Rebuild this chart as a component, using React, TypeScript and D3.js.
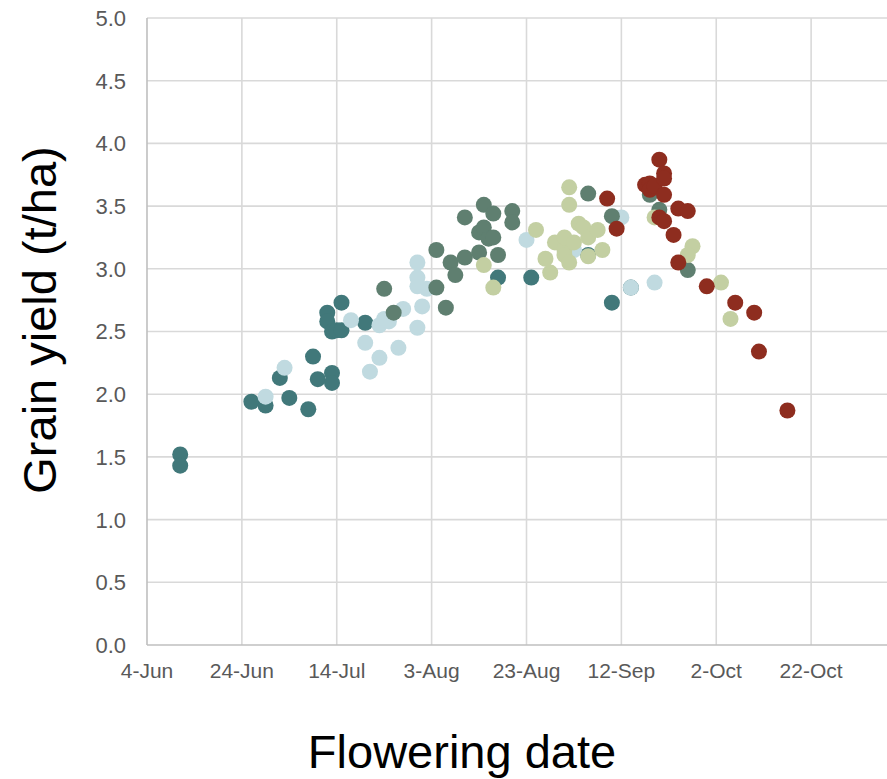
import React from "react";
import * as d3 from "d3";

// Flowering date vs grain yield, one array per sowing group
const sowingA: [string, number][] = [
  ["2019-06-11", 1.52], ["2019-06-11", 1.43], ["2019-06-26", 1.94], ["2019-06-29", 1.91],
  ["2019-07-02", 2.13], ["2019-07-04", 1.97], ["2019-07-08", 1.88], ["2019-07-09", 2.30],
  ["2019-07-10", 2.12], ["2019-07-13", 2.17], ["2019-07-13", 2.09], ["2019-07-15", 2.73],
  ["2019-07-12", 2.65], ["2019-07-12", 2.58], ["2019-07-13", 2.50], ["2019-07-14", 2.51],
  ["2019-07-15", 2.51], ["2019-07-20", 2.57], ["2019-08-17", 2.93], ["2019-08-24", 2.93],
  ["2019-09-10", 2.73], ["2019-09-14", 2.85], ["2019-09-05", 3.11],
];

const sowingB: [string, number][] = [
  ["2019-06-29", 1.98], ["2019-07-03", 2.21], ["2019-07-17", 2.59], ["2019-07-20", 2.41],
  ["2019-07-21", 2.18], ["2019-07-23", 2.29], ["2019-07-23", 2.55], ["2019-07-24", 2.60],
  ["2019-07-25", 2.58], ["2019-07-27", 2.37], ["2019-07-28", 2.68], ["2019-07-31", 2.53],
  ["2019-08-01", 2.70], ["2019-07-31", 3.05], ["2019-07-31", 2.93], ["2019-07-31", 2.86],
  ["2019-08-02", 2.84], ["2019-08-23", 3.23], ["2019-09-02", 3.15], ["2019-09-12", 3.41],
  ["2019-09-14", 2.85], ["2019-09-19", 2.89],
];

const sowingC: [string, number][] = [
  ["2019-07-24", 2.84], ["2019-07-26", 2.65], ["2019-08-04", 3.15], ["2019-08-04", 2.85],
  ["2019-08-06", 2.69], ["2019-08-07", 3.05], ["2019-08-08", 2.95], ["2019-08-10", 3.09],
  ["2019-08-10", 3.41], ["2019-08-13", 3.13], ["2019-08-13", 3.29], ["2019-08-14", 3.33],
  ["2019-08-14", 3.51], ["2019-08-15", 3.24], ["2019-08-16", 3.25], ["2019-08-16", 3.44],
  ["2019-08-17", 3.11], ["2019-08-20", 3.46], ["2019-08-20", 3.37], ["2019-09-05", 3.60],
  ["2019-09-10", 3.42], ["2019-09-18", 3.59], ["2019-09-20", 3.47], ["2019-09-26", 2.99],
];

const sowingD: [string, number][] = [
  ["2019-08-14", 3.03], ["2019-08-16", 2.85], ["2019-08-25", 3.31], ["2019-08-27", 3.08],
  ["2019-08-28", 2.97], ["2019-08-29", 3.21], ["2019-08-31", 3.15], ["2019-08-31", 3.25],
  ["2019-08-31", 3.11], ["2019-09-01", 3.05], ["2019-09-01", 3.65], ["2019-09-01", 3.51],
  ["2019-09-02", 3.21], ["2019-09-03", 3.36], ["2019-09-04", 3.33], ["2019-09-05", 3.25],
  ["2019-09-05", 3.10], ["2019-09-07", 3.31], ["2019-09-08", 3.15], ["2019-09-19", 3.41],
  ["2019-09-27", 3.18], ["2019-09-26", 3.11], ["2019-10-03", 2.89], ["2019-10-05", 2.60],
];

const sowingE: [string, number][] = [
  ["2019-09-09", 3.56], ["2019-09-11", 3.32], ["2019-09-17", 3.67], ["2019-09-18", 3.68],
  ["2019-09-18", 3.63], ["2019-09-19", 3.66], ["2019-09-20", 3.87], ["2019-09-21", 3.76],
  ["2019-09-21", 3.72], ["2019-09-21", 3.59], ["2019-09-20", 3.41], ["2019-09-21", 3.38],
  ["2019-09-23", 3.27], ["2019-09-24", 3.48], ["2019-09-26", 3.46], ["2019-09-24", 3.05],
  ["2019-09-30", 2.86], ["2019-10-06", 2.73], ["2019-10-10", 2.65], ["2019-10-11", 2.34],
  ["2019-10-17", 1.87],
];

const seriesColors = ["#41787A", "#C0DAE0", "#5F7F70", "#C3CFA2", "#8E2D1F"];

// labelled date ticks, 20 days apart; the axis runs on to 11-Nov past the right edge
const xTickDates = [
  "2019-06-04", "2019-06-24", "2019-07-14", "2019-08-03",
  "2019-08-23", "2019-09-12", "2019-10-02", "2019-10-22",
];
const xAxisEnd = "2019-11-11";
const yTicks = [0, 0.5, 1, 1.5, 2, 2.5, 3, 3.5, 4, 4.5, 5];

const xTitle = "Flowering date";
const yTitle = "Grain yield (t/ha)";

const W = 887;
const H = 779;
const plot = { left: 147, top: 18, bottom: 645, right: 906 };

const parse = d3.timeParse("%Y-%m-%d");
const fmt = d3.timeFormat("%-d-%b");

export default function App() {
  const xDomain = [parse(xTickDates[0])!, parse(xAxisEnd)!];
  const x = d3.scaleTime().domain(xDomain).range([plot.left, plot.right]);
  const y = d3.scaleLinear().domain([0, 5]).range([plot.bottom, plot.top]);

  const allSeries = [sowingA, sowingB, sowingC, sowingD, sowingE];
  const font = "'Liberation Sans', Arial, sans-serif";

  return (
    <svg
      width={W}
      height={H}
      style={{ position: "absolute", left: 0, top: 0, background: "#fff" }}
      fontFamily={font}
    >
      {/* horizontal gridlines */}
      {yTicks.slice(1).map((t) => (
        <line key={"h" + t} x1={plot.left} x2={W} y1={y(t)} y2={y(t)} stroke="#d9d9d9" strokeWidth={1.6} />
      ))}
      {/* vertical gridlines */}
      {[...xTickDates.slice(1), xAxisEnd].map((d) => (
        <line key={"v" + d} x1={x(parse(d)!)} x2={x(parse(d)!)} y1={plot.top} y2={plot.bottom} stroke="#d9d9d9" strokeWidth={1.6} />
      ))}
      {/* axes */}
      <line x1={plot.left} x2={plot.left} y1={plot.top} y2={plot.bottom} stroke="#bfbfbf" strokeWidth={1.6} />
      <line x1={plot.left} x2={W} y1={plot.bottom} y2={plot.bottom} stroke="#bfbfbf" strokeWidth={1.6} />

      {/* y tick labels */}
      {yTicks.map((t) => (
        <text key={"yl" + t} x={126} y={y(t)} dy="0.36em" textAnchor="end" fontSize={22} fill="#595959">
          {t.toFixed(1)}
        </text>
      ))}
      {/* x tick labels */}
      {xTickDates.map((d) => (
        <text key={"xl" + d} x={x(parse(d)!)} y={678} textAnchor="middle" fontSize={21} fill="#595959">
          {fmt(parse(d)!)}
        </text>
      ))}

      {/* points */}
      {allSeries.map((s, i) => (
        <g key={"s" + i} fill={seriesColors[i]}>
          {s.map(([d, v], j) => (
            <circle key={j} cx={x(parse(d)!)} cy={y(v)} r={8} />
          ))}
        </g>
      ))}

      {/* axis titles */}
      <text x={462} y={768} textAnchor="middle" fontSize={47} fill="#000">
        {xTitle}
      </text>
      <text
        transform={`translate(56, 320) rotate(-90)`}
        textAnchor="middle"
        fontSize={47}
        fill="#000"
      >
        {yTitle}
      </text>
    </svg>
  );
}
